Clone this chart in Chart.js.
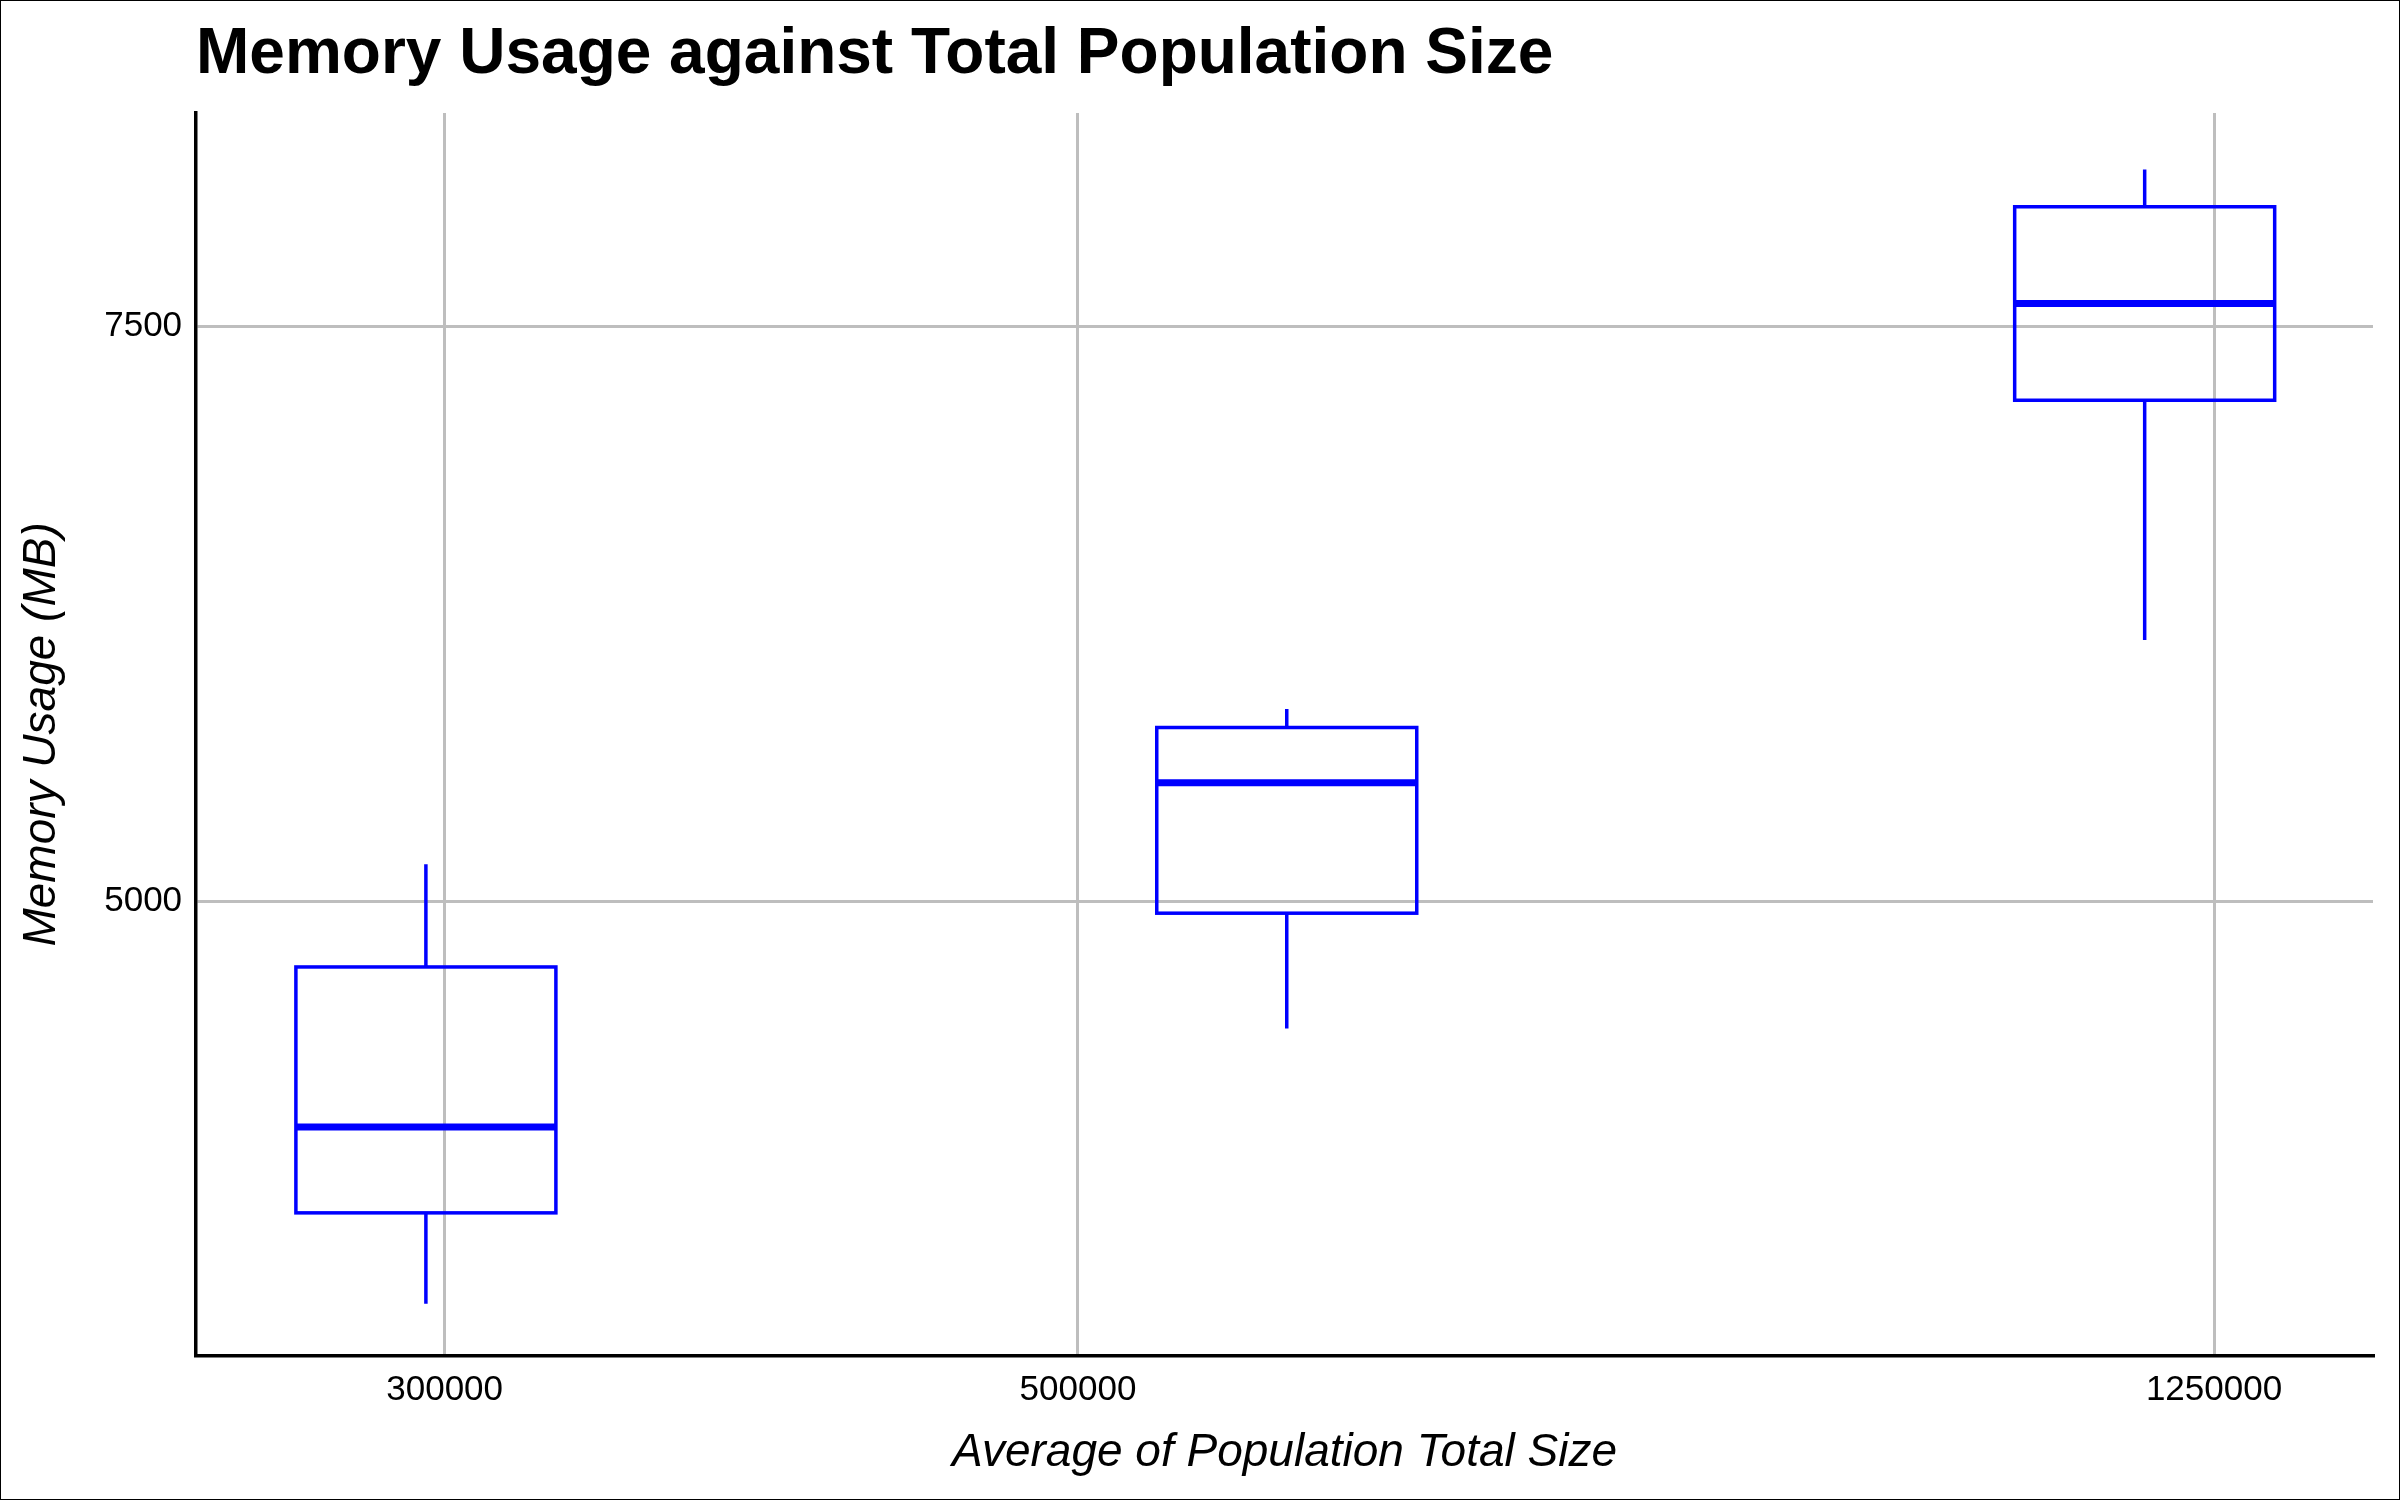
<!DOCTYPE html>
<html>
<head>
<meta charset="utf-8">
<script src="https://cdn.jsdelivr.net/npm/chart.js@4/dist/chart.umd.min.js"></script>
<style>
  html, body { margin: 0; padding: 0; background: #fff; }
  #wrap { width: 2398px; height: 1498px; border: 1px solid #000; position: relative; }
</style>
</head>
<body>
<div id="wrap"><canvas id="chart"></canvas></div>
<script>
// box statistics, one entry per group
const positions = [295500, 591700, 1182000];
const whiskerLow = [3247, 4445, 6136];
const q1 = [3643, 4947, 7179];
const median = [4017, 5515, 7600];
const q3 = [4713, 5755, 8021];
const whiskerHigh = [5160, 5836, 8183];
const xTicks = [300000, 500000, 1250000];
const yTicks = [5000, 7500];
const boxColor = '#0000ff';
const titleText = 'Memory Usage against Total Population Size';

const font = 'Liberation Sans, Arial, sans-serif';

const boxPlugin = {
    id: 'boxes',
    afterDatasetsDraw(chart) {
        const ctx = chart.ctx;
        const xs = chart.scales.x;
        const ys = chart.scales.y;
        const half = 130;
        ctx.save();
        ctx.strokeStyle = boxColor;
        positions.forEach((p, i) => {
            const cx = xs.getPixelForValue(p);
            const top = ys.getPixelForValue(q3[i]);
            const bot = ys.getPixelForValue(q1[i]);
            ctx.lineWidth = 3.5;
            ctx.beginPath();
            ctx.moveTo(cx, ys.getPixelForValue(whiskerHigh[i]));
            ctx.lineTo(cx, top);
            ctx.moveTo(cx, bot);
            ctx.lineTo(cx, ys.getPixelForValue(whiskerLow[i]));
            ctx.stroke();
            ctx.strokeRect(cx - half, top, half * 2, bot - top);
            ctx.lineWidth = 7;
            ctx.beginPath();
            const m = ys.getPixelForValue(median[i]);
            ctx.moveTo(cx - half, m);
            ctx.lineTo(cx + half, m);
            ctx.stroke();
        });
        // title aligned with the plot's left edge
        ctx.fillStyle = '#000';
        ctx.font = 'bold 64px ' + font;
        ctx.textBaseline = 'alphabetic';
        ctx.fillText(titleText, chart.chartArea.left, 72);
        ctx.restore();
    }
};

new Chart(document.getElementById('chart'), {
    type: 'scatter',
    data: {
        datasets: [{
            data: positions.map((p, i) => ({ x: p, y: median[i] })),
            pointRadius: 0
        }]
    },
    options: {
        responsive: true,
        maintainAspectRatio: false,
        devicePixelRatio: 1,
        animation: false,
        layout: { padding: { left: 10, right: 26, top: 112, bottom: 14 } },
        plugins: {
            legend: { display: false },
            tooltip: { enabled: false },
            title: { display: false }
        },
        scales: {
            x: {
                type: 'logarithmic',
                min: 245500,
                max: 1421000,
                afterBuildTicks: (s) => { s.ticks = xTicks.map(v => ({ value: v })); },
                ticks: {
                    color: '#000',
                    font: { family: font, size: 35 },
                    padding: 14,
                    callback: (v) => String(v)
                },
                grid: { color: '#bebebe', lineWidth: 3, drawTicks: false },
                border: { color: '#000', width: 3.5 },
                title: {
                    display: true,
                    text: 'Average of Population Total Size',
                    color: '#000',
                    font: { family: font, size: 46, style: 'italic' },
                    padding: { top: 0 }
                }
            },
            y: {
                min: 3021,
                max: 8429,
                afterBuildTicks: (s) => { s.ticks = yTicks.map(v => ({ value: v })); },
                ticks: {
                    color: '#000',
                    font: { family: font, size: 35 },
                    padding: 14,
                    callback: (v) => String(v)
                },
                grid: { color: '#bebebe', lineWidth: 3, drawTicks: false },
                border: { color: '#000', width: 3.5 },
                title: {
                    display: true,
                    text: 'Memory Usage (MB)',
                    color: '#000',
                    font: { family: font, size: 46, style: 'italic' },
                    padding: { bottom: 20 }
                }
            }
        }
    },
    plugins: [boxPlugin]
});
</script>
</body>
</html>
